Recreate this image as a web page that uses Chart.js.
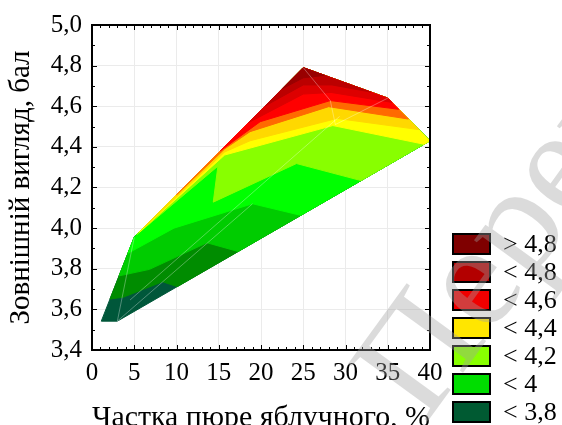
<!DOCTYPE html>
<html>
<head>
<meta charset="utf-8">
<script src="https://cdn.jsdelivr.net/npm/chart.js@4.4.1/dist/chart.umd.min.js"></script>
<style>
    html, body { margin: 0; padding: 0; background: #ffffff; }
    #contour-canvas { display: block; }
</style>
</head>
<body>
<canvas id="contour-canvas" width="562" height="425"></canvas>
<script>
// Outline of the measured region [x, y]
const regionOutline = [[1.1, 3.542], [3.0, 3.542], [40.0, 4.43], [35.0, 4.64], [25.0, 4.79], [5.0, 3.955]];
const cornerRight = [40.0, 4.43];
const cornerUpperRight = [35.0, 4.64];
const cornerPeak = [25.0, 4.79];
const cornerUpperLeft = [5.0, 3.955];

// Contour boundaries, from the lowest band upward
const contour1 = [[2.13, 3.651], [3.7, 3.66], [8.35, 3.736], [10.1, 3.712]];
const contour2 = [[3.2, 3.765], [6.8, 3.797], [13.6, 3.928], [17.3, 3.885]];
const contour3 = [[4.25, 3.876], [9.7, 4.0], [19.0, 4.12], [24.7, 4.063]];
const contour4 = [[5.3, 3.968], [14.9, 4.305], [14.35, 4.128], [24.2, 4.318], [31.85, 4.234]];
const contour5 = [[5.6, 3.98], [15.7, 4.36], [28.5, 4.505], [39.3, 4.413]];
const contour6 = [[6.2, 4.005], [15.7, 4.375], [18.7, 4.43], [29.0, 4.54], [38.7, 4.485]];
const contour7 = [[10.0, 4.164], [15.7, 4.39], [18.7, 4.475], [28.0, 4.598], [37.45, 4.537]];
const contour8 = [[15.2, 4.381], [19.9, 4.524], [28.2, 4.628], [36.3, 4.585]];
const contour9 = [[18.5, 4.519], [25.0, 4.66], [28.3, 4.668], [35.5, 4.619]];
const contour10 = [[20.5, 4.602], [25.0, 4.705], [28.4, 4.705], [33.0, 4.67]];
const contour11 = [[22.5, 4.686], [25.0, 4.74], [27.5, 4.752]];

// Fill colour of each band (lowest first)
const baseColor = "#00573a";
const bandColors = ["#008c00", "#00cc00", "#00ff00", "#88ff00", "#ffff00", "#ffd800",
                    "#ff6a00", "#ff0000", "#dd0000", "#bb0000", "#990000"];

// Thin triangulation lines over the surface
const meshLine1 = [[3.0, 3.542], [5.0, 3.955]];
const meshLine2 = [[4.5, 3.646], [29.3, 4.55]];
const meshLine3 = [[3.0, 3.542], [19.0, 4.12]];
const meshLine4 = [[25.0, 4.79], [28.2, 4.628], [28.8, 4.51], [35.0, 4.64]];

// Legend
const legendLabels = ["> 4,8", "< 4,8", "< 4,6", "< 4,4", "< 4,2", "< 4", "< 3,8"];
const legendColors = ["#7f0000", "#b30000", "#f00000", "#ffe600", "#88ff00", "#00dd00", "#005a32"];

const xTicks = [0, 40, 5];
const yTicks = [3.4, 5.0, 0.2];

const serif = '"Liberation Serif", "Times New Roman", serif';

// Every band is the area above its contour, closed along the outline
const contourLines = [contour1, contour2, contour3, contour4, contour5, contour6,
                      contour7, contour8, contour9, contour10, contour11];
const closingCorners = [
    [cornerRight, cornerUpperRight, cornerPeak, cornerUpperLeft],
    [cornerRight, cornerUpperRight, cornerPeak, cornerUpperLeft],
    [cornerRight, cornerUpperRight, cornerPeak, cornerUpperLeft],
    [cornerRight, cornerUpperRight, cornerPeak],
    [cornerRight, cornerUpperRight, cornerPeak],
    [cornerUpperRight, cornerPeak],
    [cornerUpperRight, cornerPeak],
    [cornerUpperRight, cornerPeak],
    [cornerUpperRight, cornerPeak],
    [cornerPeak],
    [cornerPeak]
];

function toPoints(list) {
    return list.map(p => ({x: p[0], y: p[1]}));
}

function makeBand(points, color, order) {
    return {
        data: toPoints(points.concat([points[0]])),
        showLine: true,
        fill: "shape",
        backgroundColor: color,
        borderColor: color,
        borderWidth: 1,
        pointRadius: 0,
        order: order
    };
}

let datasets = [];
datasets.push(makeBand(regionOutline, baseColor, 50));
for (let i = 0; i < contourLines.length; i++) {
    datasets.push(makeBand(contourLines[i].concat(closingCorners[i]), bandColors[i], 49 - i));
}
[meshLine1, meshLine2, meshLine3, meshLine4].forEach(line => {
    datasets.push({
        data: toPoints(line),
        showLine: true,
        fill: false,
        borderColor: "rgba(255,255,255,0.4)",
        borderWidth: 0.8,
        pointRadius: 0,
        order: 1
    });
});

// Frame with inward major and minor ticks on all four sides
const framePlugin = {
    id: "frameTicks",
    afterDatasetsDraw(chart) {
        const {ctx, chartArea: a, scales: {x, y}} = chart;
        ctx.save();
        ctx.strokeStyle = "#000";
        ctx.lineWidth = 1;
        ctx.beginPath();
        for (let v = xTicks[0]; v <= xTicks[1] + 1e-9; v += 1) {
            const px = Math.round(x.getPixelForValue(v)) + 0.5;
            const len = (v % xTicks[2] === 0) ? 5 : 3;
            ctx.moveTo(px, a.bottom); ctx.lineTo(px, a.bottom - len);
            ctx.moveTo(px, a.top); ctx.lineTo(px, a.top + len);
        }
        for (let k = 0; k <= 16; k++) {
            const v = yTicks[0] + k * 0.1;
            const py = Math.round(y.getPixelForValue(v)) + 0.5;
            const len = (k % 2 === 0) ? 5 : 3;
            ctx.moveTo(a.left, py); ctx.lineTo(a.left + len, py);
            ctx.moveTo(a.right, py); ctx.lineTo(a.right - len, py);
        }
        ctx.stroke();
        ctx.lineWidth = 2;
        ctx.strokeRect(a.left, a.top, a.right - a.left, a.bottom - a.top);
        ctx.restore();
    }
};

// Colour key on the right
const legendPlugin = {
    id: "bandLegend",
    afterDraw(chart) {
        const ctx = chart.ctx;
        ctx.save();
        ctx.font = "26px " + serif;
        ctx.textBaseline = "middle";
        for (let i = 0; i < legendLabels.length; i++) {
            const top = 234 + i * 28;
            ctx.fillStyle = legendColors[i];
            ctx.fillRect(453, top, 37, 20);
            ctx.lineWidth = 2;
            ctx.strokeStyle = "#000";
            ctx.strokeRect(453, top, 37, 20);
            ctx.fillStyle = "#000";
            ctx.fillText(legendLabels[i], 503, top + 11);
        }
        ctx.restore();
    }
};

// Grey stamp across the lower right
const stampPlugin = {
    id: "stamp",
    afterDraw(chart) {
        const ctx = chart.ctx;
        ctx.save();
        ctx.translate(425, 425);
        ctx.rotate(-54 * Math.PI / 180);
        ctx.font = "150px " + serif;
        ctx.fillStyle = "rgba(160,160,160,0.38)";
        ctx.textBaseline = "alphabetic";
        ctx.fillText("Перегляд", 0, 0);
        ctx.restore();
    }
};

let contourChart = new Chart(document.getElementById("contour-canvas"), {
    type: "scatter",
    data: { datasets: datasets },
    options: {
        responsive: false,
        animation: false,
        devicePixelRatio: 1,
        events: [],
        layout: { padding: { left: 0, right: 132, top: 25, bottom: 0 } },
        plugins: {
            legend: { display: false },
            tooltip: { enabled: false }
        },
        scales: {
            x: {
                type: "linear",
                min: xTicks[0],
                max: xTicks[1],
                afterFit: scale => { scale.height = 75; },
                grid: { color: "#ebebeb", drawTicks: false },
                border: { display: false },
                ticks: {
                    stepSize: xTicks[2],
                    autoSkip: false,
                    maxRotation: 0,
                    padding: 8,
                    color: "#000",
                    font: { family: serif, size: 25 },
                    callback: v => String(v)
                },
                title: {
                    display: true,
                    text: "Частка пюре яблучного, %",
                    color: "#000",
                    font: { family: serif, size: 30, lineHeight: 1 },
                    padding: { top: 0, bottom: -8 }
                }
            },
            y: {
                type: "linear",
                min: yTicks[0],
                max: yTicks[1],
                afterFit: scale => { scale.width = 92; },
                grid: { color: "#ebebeb", drawTicks: false },
                border: { display: false },
                ticks: {
                    stepSize: yTicks[2],
                    autoSkip: false,
                    padding: 10,
                    color: "#000",
                    font: { family: serif, size: 25 },
                    callback: v => v.toFixed(1).replace(".", ",")
                },
                title: {
                    display: true,
                    text: "Зовнішній вигляд, бал",
                    color: "#000",
                    font: { family: serif, size: 29, lineHeight: 1 },
                    padding: { top: 7, bottom: 0 }
                }
            }
        }
    },
    plugins: [framePlugin, legendPlugin, stampPlugin]
});
</script>
</body>
</html>
